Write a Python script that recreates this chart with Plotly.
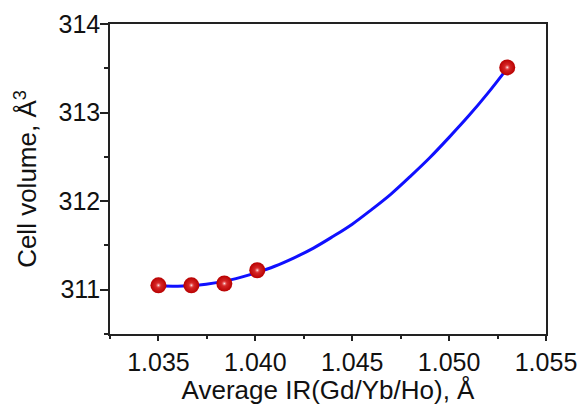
import plotly.graph_objects as go

# measured data points
ir = [1.0350, 1.0367, 1.0384, 1.0401, 1.0530]
vol = [311.05, 311.05, 311.07, 311.22, 313.51]

# fitted curve
fit_x = [1.035, 1.036, 1.037, 1.038, 1.039, 1.040, 1.041, 1.042, 1.043, 1.044,
         1.045, 1.046, 1.047, 1.048, 1.049, 1.050, 1.051, 1.052, 1.053]
fit_y = [311.045, 311.04, 311.05, 311.08, 311.125, 311.19, 311.265, 311.36, 311.47, 311.60,
         311.74, 311.905, 312.08, 312.28, 312.49, 312.72, 312.96, 313.22, 313.50]

fig = go.Figure()
fig.add_trace(go.Scatter(x=fit_x, y=fit_y, mode="lines", line=dict(color="#1010ff", width=3, shape="spline"),
                         showlegend=False, hoverinfo="skip"))
fig.add_trace(go.Scatter(x=ir, y=vol, mode="markers",
                         marker=dict(size=16, color="#b80000", line=dict(width=0),
                                     gradient=dict(type="radial", color="#e43a3a")),
                         showlegend=False))
fig.add_trace(go.Scatter(x=ir, y=vol, mode="markers",
                         marker=dict(size=6, color="rgba(230,60,60,0)", line=dict(width=0),
                                     gradient=dict(type="radial", color="rgba(255,255,255,0.95)")),
                         showlegend=False, hoverinfo="skip"))

font = dict(family="Liberation Sans, Arial, sans-serif", size=25, color="#111")
title_font = dict(family="Liberation Sans, Arial, sans-serif", size=26, color="#111")
axis_common = dict(showline=True, linecolor="#222", linewidth=1.5, mirror=True, showgrid=False,
                   zeroline=False, ticks="outside", tickcolor="#222", tickwidth=1.5,
                   tickfont=font, automargin=False)

fig.update_xaxes(range=[1.0325, 1.055], tickvals=[1.035, 1.040, 1.045, 1.050, 1.055],
                 ticktext=["1.035", "1.040", "1.045", "1.050", "1.055"], ticklen=5,
                 minor=dict(dtick=0.0025, tick0=1.0325, ticks="outside", ticklen=3, tickcolor="#222", tickwidth=1.5),
                 title=dict(text="Average IR(Gd/Yb/Ho), Å", font=title_font, standoff=22), **axis_common)
fig.update_yaxes(range=[310.5, 314], tickvals=[311, 312, 313, 314], ticklen=8,
                 minor=dict(dtick=0.5, tick0=310.5, ticks="outside", ticklen=4, tickcolor="#222", tickwidth=1.5),
                 ticklabelstandoff=-5,
                 title=dict(text="Cell volume, Å<sup>3</sup>", font=title_font, standoff=14), **axis_common)

fig.update_layout(width=580, height=405, margin=dict(l=110, r=34, t=24, b=71),
                  paper_bgcolor="white", plot_bgcolor="white", font=font)
fig.write_html("out.html")
